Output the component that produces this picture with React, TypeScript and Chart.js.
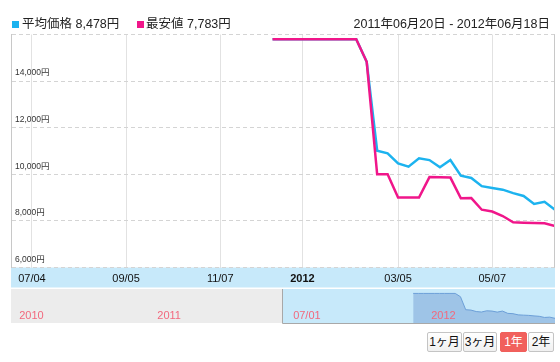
import React, { useEffect, useRef } from 'react';
import { Chart, registerables } from 'chart.js';

Chart.register(...registerables);

const FONT = '"Liberation Sans", Arial, "Noto Sans CJK JP", sans-serif';

// ---- data ----
const BASE_DATE = '2011-06-20';
const RANGE_START = '2011-06-20';
const RANGE_END = '2012-06-18';
const NAV_START = '2010-06-24';

const dates = [
  '2011-12-12', '2011-12-19', '2011-12-26', '2012-01-02', '2012-01-09', '2012-01-16', '2012-01-23',
  '2012-01-30', '2012-02-06', '2012-02-13', '2012-02-20', '2012-02-27', '2012-03-05', '2012-03-12',
  '2012-03-19', '2012-03-26', '2012-04-02', '2012-04-09', '2012-04-16', '2012-04-23', '2012-04-30',
  '2012-05-07', '2012-05-14', '2012-05-21', '2012-05-28', '2012-06-04', '2012-06-11', '2012-06-18',
];
const avgPrice = [
  15800, 15800, 15800, 15800, 15800, 15800, 15800,
  15800, 15800, 14830, 11010, 10900, 10470, 10330,
  10690, 10610, 10300, 10610, 9940, 9840, 9490,
  9410, 9340, 9190, 9070, 8730, 8820, 8478,
];
const minPrice = [
  15800, 15800, 15800, 15800, 15800, 15800, 15800,
  15800, 15800, 14830, 10000, 10000, 9000, 9000,
  9000, 9880, 9870, 9860, 8970, 8980, 8480,
  8400, 8210, 7940, 7925, 7910, 7895, 7783,
];

const yTicks = [6000, 8000, 10000, 12000, 14000, 16000];
const xTickDates = ['2011-07-04', '2011-09-05', '2011-11-07', '2012-01-01', '2012-03-05', '2012-05-07'];
const xTickLabels = ['07/04', '09/05', '11/07', '2012', '03/05', '05/07'];
const xTickBold = [false, false, false, true, false, false];

const navTickDates = ['2010-07-01', '2011-01-01', '2011-07-01', '2012-01-01'];
const navTickLabels = ['2010', '2011', '07/01', '2012'];

const legendNames = ['平均価格', '最安値'];
const legendValues = ['8,478円', '7,783円'];
const rangeText = '2011年06月20日 - 2012年06月18日';
const buttonLabels = ['1ヶ月', '3ヶ月', '1年', '2年'];
const selectedButton = 2;

// ---- styles ----
const BLUE = '#1cb3ef';
const PINK = '#f0168a';
const BAND = '#c7e9fa';

const toDay = (s: string) => {
  const [y, m, d] = s.split('-').map(Number);
  const [by, bm, bd] = BASE_DATE.split('-').map(Number);
  return Math.round((Date.UTC(y, m - 1, d) - Date.UTC(by, bm - 1, bd)) / 86400000);
};

const mainFrame = {
  id: 'mainFrame',
  beforeDraw(chart: any) {
    const { ctx, chartArea } = chart;
    ctx.save();
    ctx.fillStyle = BAND;
    ctx.fillRect(chartArea.left, chartArea.bottom, chartArea.right - chartArea.left, 20);
    ctx.restore();
  },
  afterDraw(chart: any) {
    const { ctx, chartArea } = chart;
    ctx.save();
    ctx.strokeStyle = '#c8c8c8';
    ctx.lineWidth = 1;
    ctx.beginPath();
    const x = Math.round(chartArea.right) - 0.5;
    ctx.moveTo(x, chartArea.top);
    ctx.lineTo(x, chartArea.bottom);
    ctx.stroke();
    ctx.restore();
  },
};

const navFrame = {
  id: 'navFrame',
  beforeDraw(chart: any) {
    const { ctx, chartArea, scales } = chart;
    const mx = Math.round(scales.x.getPixelForValue(toDay(RANGE_START)));
    ctx.save();
    ctx.fillStyle = '#ececec';
    ctx.fillRect(chartArea.left, chartArea.top, mx - chartArea.left, chartArea.bottom - chartArea.top);
    ctx.fillStyle = BAND;
    ctx.fillRect(mx, chartArea.top, chartArea.right - mx, chartArea.bottom - chartArea.top);
    ctx.restore();
  },
  afterDraw(chart: any) {
    const { ctx, chartArea, scales } = chart;
    const mx = Math.round(scales.x.getPixelForValue(toDay(RANGE_START)));
    ctx.save();
    ctx.strokeStyle = '#a8a8a8';
    ctx.lineWidth = 1;
    ctx.beginPath();
    ctx.moveTo(mx + 0.5, chartArea.top);
    ctx.lineTo(mx + 0.5, chartArea.bottom + 0.5);
    ctx.lineTo(chartArea.right, chartArea.bottom + 0.5);
    ctx.stroke();
    ctx.restore();
  },
};

export default function App() {
  const mainRef = useRef<HTMLCanvasElement>(null);
  const navRef = useRef<HTMLCanvasElement>(null);

  useEffect(() => {
    Chart.defaults.font.family = FONT;
    const avgPts = dates.map((d, i) => ({ x: toDay(d), y: avgPrice[i] }));
    const minPts = dates.map((d, i) => ({ x: toDay(d), y: minPrice[i] }));

    const main = new Chart(mainRef.current as HTMLCanvasElement, {
      type: 'line',
      data: {
        datasets: [
          { label: legendNames[1], data: minPts, borderColor: PINK, borderWidth: 2.5, pointRadius: 0, tension: 0, fill: false },
          { label: legendNames[0], data: avgPts, borderColor: BLUE, borderWidth: 2.5, pointRadius: 0, tension: 0, fill: false },
        ],
      },
      options: {
        animation: false,
        responsive: false,
        events: [],
        layout: { padding: { left: 11, right: 5, top: 34.5, bottom: 0 } },
        plugins: { legend: { display: false }, tooltip: { enabled: false } },
        scales: {
          x: {
            type: 'linear',
            min: toDay(RANGE_START),
            max: toDay(RANGE_END),
            afterBuildTicks: (s: any) => { s.ticks = xTickDates.map((d) => ({ value: toDay(d) })); },
            afterFit: (s: any) => { s.height = 20.5; },
            grid: { color: '#e2e2e2', drawTicks: false, lineWidth: 1 },
            border: { display: false },
            ticks: {
              autoSkip: false,
              maxRotation: 0,
              padding: 5,
              color: '#111',
              font: (c: any) => ({ size: 11, weight: xTickBold[c.index] ? 'bold' : 'normal' }),
              callback: (_v: any, i: number) => xTickLabels[i],
            },
          },
          y: {
            type: 'linear',
            min: yTicks[0],
            max: yTicks[yTicks.length - 1],
            afterBuildTicks: (s: any) => { s.ticks = yTicks.map((v) => ({ value: v })); },
            afterFit: (s: any) => { s.width = 0; },
            grid: { color: '#d4d4d4', drawTicks: false },
            border: { display: true, color: '#c8c8c8', dash: [4, 3] },
            ticks: {
              mirror: true,
              padding: 4,
              labelOffset: -8,
              color: '#333',
              font: { size: 8.5 },
              callback: (v: any) => (v === yTicks[yTicks.length - 1] ? '' : Number(v).toLocaleString('en-US') + '円'),
            },
          },
        },
      } as any,
      plugins: [mainFrame],
    });

    const nav = new Chart(navRef.current as HTMLCanvasElement, {
      type: 'line',
      data: {
        datasets: [
          { data: avgPts, borderColor: '#6c9fd8', borderWidth: 1, backgroundColor: '#9ec4e7', fill: 'start', pointRadius: 0, tension: 0 },
        ],
      },
      options: {
        animation: false,
        responsive: false,
        events: [],
        layout: { padding: { left: 11, right: 5, top: 1, bottom: 1 } },
        plugins: { legend: { display: false }, tooltip: { enabled: false } },
        scales: {
          x: {
            type: 'linear',
            min: toDay(NAV_START),
            max: toDay(RANGE_END),
            afterBuildTicks: (s: any) => { s.ticks = navTickDates.map((d) => ({ value: toDay(d) })); },
            afterFit: (s: any) => { s.height = 0; },
            grid: { display: false, drawTicks: false },
            border: { display: false },
            ticks: {
              z: 1,
              autoSkip: false,
              maxRotation: 0,
              mirror: true,
              align: 'start',
              labelOffset: 3,
              padding: 0.2,
              color: '#f2687d',
              font: { size: 11 },
              callback: (_v: any, i: number) => navTickLabels[i],
            },
          },
          y: { display: false, min: 7100, max: 17100 },
        },
      } as any,
      plugins: [navFrame],
    });

    return () => {
      main.destroy();
      nav.destroy();
    };
  }, []);

  const textStyle: React.CSSProperties = {
    position: 'absolute',
    top: 17,
    fontSize: '12.5px',
    lineHeight: '15px',
    color: '#222',
    whiteSpace: 'nowrap',
  };

  const btnPos = [
    { left: 427, width: 35 },
    { left: 463, width: 34 },
    { left: 500, width: 27 },
    { left: 528, width: 26 },
  ];

  return (
    <div style={{ position: 'absolute', left: 0, top: 0, width: 560, height: 362, background: '#fff', fontFamily: FONT, overflow: 'hidden' }}>
      <canvas ref={mainRef} width={560} height={288} style={{ position: 'absolute', left: 0, top: 0 }} />
      <canvas ref={navRef} width={560} height={36} style={{ position: 'absolute', left: 0, top: 288 }} />

      <div style={{ position: 'absolute', left: 12, top: 21, width: 7, height: 7, background: BLUE }} />
      <div style={{ ...textStyle, left: 22 }}>{legendNames[0]} {legendValues[0]}</div>
      <div style={{ position: 'absolute', left: 137, top: 21, width: 7, height: 7, background: PINK }} />
      <div style={{ ...textStyle, left: 146 }}>{legendNames[1]} {legendValues[1]}</div>
      <div style={{ ...textStyle, right: 10 }}>{rangeText}</div>

      {buttonLabels.map((b, i) => (
        <div
          key={b}
          style={{
            position: 'absolute',
            top: 332,
            left: btnPos[i].left,
            width: btnPos[i].width,
            height: 20,
            boxSizing: 'border-box',
            border: i === selectedButton ? '1px solid #f05f5b' : '1px solid #c4c4c4',
            borderRadius: 2,
            background: i === selectedButton ? '#f1605c' : 'linear-gradient(#ffffff, #f0f0f0)',
            color: i === selectedButton ? '#fff' : '#111',
            fontSize: '12px',
            lineHeight: '18px',
            textAlign: 'center',
          }}
        >
          {b}
        </div>
      ))}
    </div>
  );
}
